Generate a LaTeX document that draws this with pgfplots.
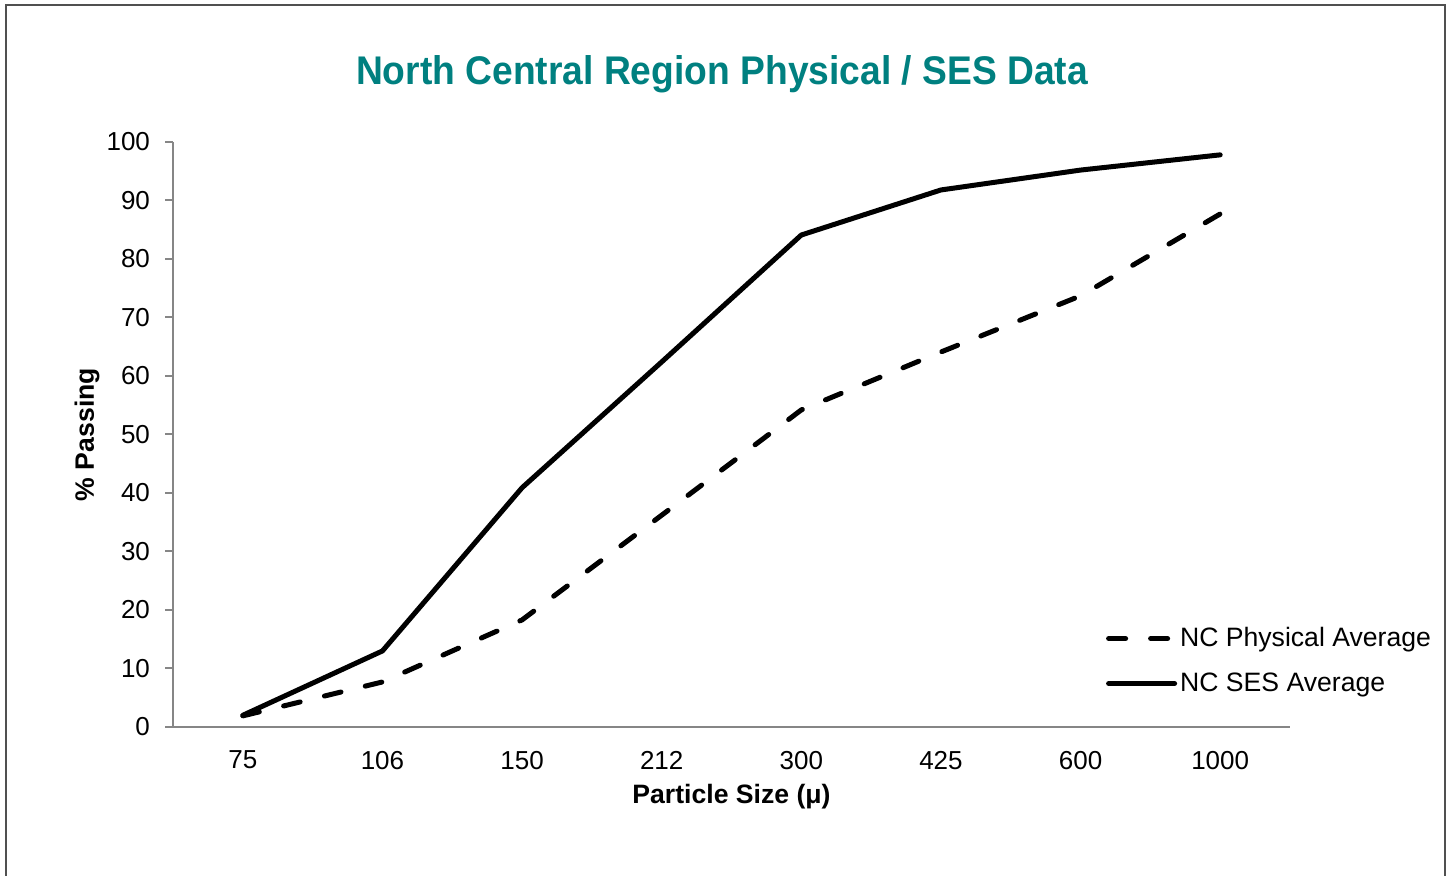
\documentclass[border=0pt]{standalone}
\usepackage{fontspec}
\setmainfont{Liberation Sans}
\usepackage{pgfplots}
\pgfplotsset{compat=1.18}
\definecolor{titleteal}{RGB}{0,128,128}
\definecolor{axisgray}{RGB}{134,134,134}
\definecolor{framegray}{RGB}{80,80,80}
\begin{document}
\begin{tikzpicture}
\useasboundingbox (0pt,0pt) rectangle (724.5pt,438pt);
\draw[framegray, line width=1pt] (3pt,-5pt) -- (3pt,435.5pt) -- (722.5pt,435.5pt) -- (722.5pt,-5pt);
\node[font=\fontsize{20}{24}\selectfont\bfseries, text=titleteal, xscale=0.93, transform shape] at (361pt,401pt) {North Central Region Physical / SES Data};
\begin{axis}[
  at={(86.5pt,74.5pt)}, anchor=south west,
  scale only axis, width=558.5pt, height=292.5pt,
  xmin=-0.5, xmax=7.5, ymin=0, ymax=100,
  axis x line=bottom, axis y line=left,
  axis line style={-, axisgray, line width=1pt},
  xtick={0,...,7},
  xticklabels={75,106,150,212,300,425,600,1000},
  x tick style={draw=none},
  ytick={0,10,...,100},
  y tick style={axisgray, line width=1pt},
  tick align=outside, major tick length=4pt,
  tick label style={font=\fontsize{13}{15}\selectfont},
  x tick label style={yshift=-4.5pt},
  y tick label style={xshift=-4pt},
  /pgf/number format/assume math mode=true,
  xlabel={\textbf{Particle Size (μ)}},
  ylabel={\textbf{\% Passing}},
  label style={font=\fontsize{13.3}{16}\selectfont},
  x label style={at={(axis description cs:0.5,-0.1197)}, anchor=center},
  y label style={at={(axis description cs:-0.077,0.5)}, anchor=center},
  legend style={draw=none, fill=none, at={(0.835,0.176)}, anchor=north west,
    font=\fontsize{13.3}{16}\selectfont, row sep=8.5pt, inner sep=0pt,
    nodes={inner sep=1.5pt}},
  legend cell align=left,
  legend image code/.code={\draw[#1] (0pt,0pt) -- (33pt,0pt);},
]
\addplot[black, line width=2.5pt, line cap=round, line join=round,
  dash pattern=on 8.5pt off 12.5pt] coordinates {
  (0,1.9) (1,7.7) (2,18.3) (3,36.2) (4,54.2) (5,64.1) (6,73.7) (7,87.7)};
\addlegendentry{NC Physical Average}
\addplot[black, line width=2.5pt, line cap=round, line join=round] coordinates {
  (0,2.0) (1,13.0) (2,40.9) (3,62.4) (4,84.1) (5,91.8) (6,95.2) (7,97.8)};
\addlegendentry{NC SES Average}
\end{axis}
\end{tikzpicture}
\end{document}
